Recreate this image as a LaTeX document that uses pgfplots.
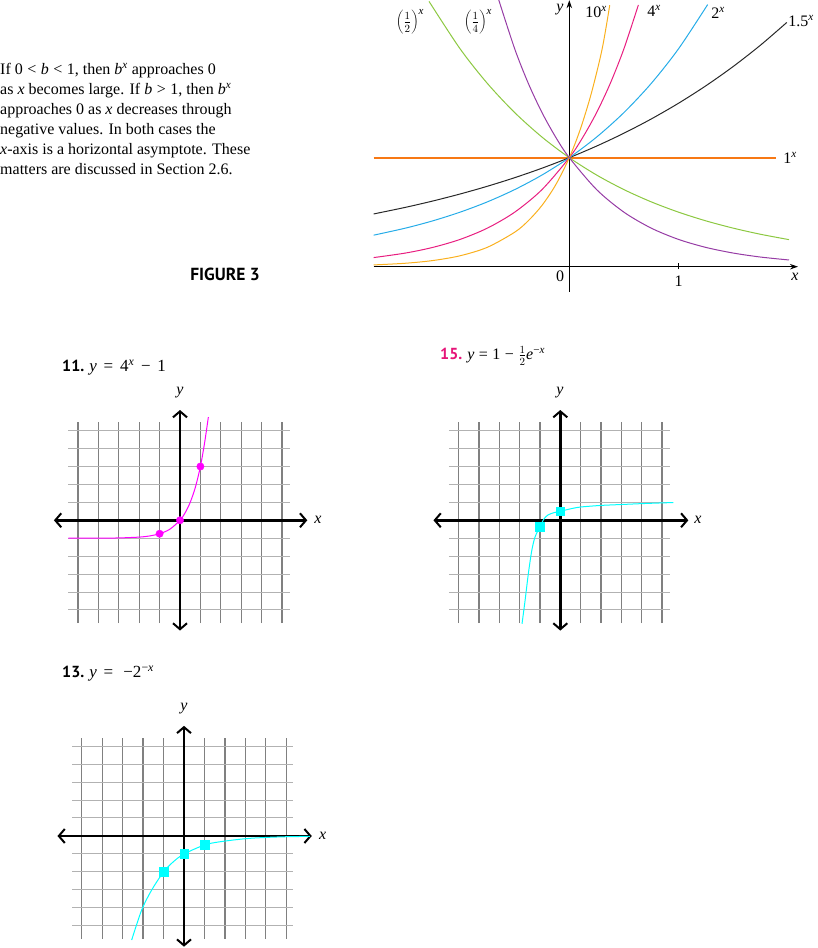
\documentclass[border=0pt]{standalone}
\usepackage{fontspec}
\setmainfont{Liberation Serif}
\newfontfamily\sansbf{PT Sans}
\usepackage{pgfplots}
\pgfplotsset{compat=1.18}
\usetikzlibrary{arrows.meta}
\definecolor{cten}{RGB}{250,176,30}
\definecolor{cfour}{RGB}{232,30,128}
\definecolor{ctwo}{RGB}{38,172,232}
\definecolor{conex}{RGB}{247,120,20}
\definecolor{chalf}{RGB}{140,200,65}
\definecolor{cquart}{RGB}{150,60,165}
\definecolor{cfive}{RGB}{40,40,40}
\definecolor{mag}{RGB}{255,0,255}
\definecolor{cyn}{RGB}{0,255,255}
\definecolor{pinkt}{RGB}{230,20,120}
\newcommand{\sx}{\textsuperscript{\itshape x}}
\newcommand{\msp}{\hspace{0.28em}}
\newcommand{\tsp}{\hspace{0.4em}}
\pgfplotsset{
  gridax/.style={anchor=origin, xmin=-5.47, xmax=5.37, ymin=-5.74, ymax=5.49,
    xtick={-5,...,5}, ytick={-5,...,5}, xticklabels={,,}, yticklabels={,,},
    grid=major, major tick length=0pt, axis line style={draw=none},
    x grid style={black!50, line width=1.3pt}, y grid style={black!30, line width=1pt},
    clip=false},
}
\tikzset{
  bigarrow/.style={line width=2.6pt, {Straight Barb[length=6pt,width=14pt,line width=2pt]}-{Straight Barb[length=6pt,width=14pt,line width=2pt]}},
  lab/.style={font=\fontsize{16}{16}\selectfont, inner sep=0pt},
}
\begin{document}
\begin{tikzpicture}
\path[use as bounding box] (0pt,0pt) rectangle (817pt,948pt);

% ---------- Figure 3 ----------
\begin{axis}[at={(569.3pt,681.3pt)}, anchor=origin, x=109.3pt, y=109pt,
  xmin=-1.79, xmax=2.092, ymin=-0.23, ymax=2.445,
  axis lines=middle, axis line style={line width=0.9pt, black, -{Stealth[length=8pt,width=5.5pt]}},
  xtick=\empty, ytick=\empty, clip=false]
\addplot[draw=conex, color=conex, line width=2pt] coordinates {(-1.79,1)(0,1)(1.89,1)};
\addplot[cfive, line width=1pt, smooth] coordinates {(-1.79,0.4839)(-1.5,0.5443)(-1.25,0.6024)(-1,0.6667)(-0.75,0.7378)(-0.5,0.8165)(-0.25,0.9036)(0,1)(0.25,1.1067)(0.5,1.2247)(0.75,1.3554)(1,1.5)(1.25,1.66)(1.5,1.8371)(1.75,2.0331)(1.99,2.2409)};
\addplot[ctwo, line width=1pt, smooth] coordinates {(-1.79,0.2892)(-1.5,0.3536)(-1.25,0.4204)(-1,0.5)(-0.75,0.5946)(-0.5,0.7071)(-0.25,0.8409)(0,1)(0.25,1.1892)(0.5,1.4142)(0.75,1.6818)(1,2)(1.266,2.4049)};
\addplot[cfour, line width=1pt, smooth] coordinates {(-1.79,0.0836)(-1.5,0.125)(-1.25,0.1768)(-1,0.25)(-0.75,0.3536)(-0.5,0.5)(-0.25,0.7071)(0,1)(0.125,1.1892)(0.25,1.4142)(0.375,1.6818)(0.5,2)(0.632,2.4016)};
\addplot[cten, line width=1pt, smooth] coordinates {(-1.79,0.0162)(-1.5,0.0316)(-1.25,0.0562)(-1,0.1)(-0.75,0.1778)(-0.5,0.3162)(-0.375,0.4217)(-0.25,0.5623)(-0.125,0.7499)(0,1)(0.1,1.2589)(0.2,1.5849)(0.3,1.9953)(0.37,2.40)};
\addplot[chalf, line width=1pt, smooth] coordinates {(-1.283,2.4334)(-1,2)(-0.75,1.6818)(-0.5,1.4142)(-0.25,1.1892)(0,1)(0.25,0.8409)(0.5,0.7071)(0.75,0.5946)(1,0.5)(1.25,0.4204)(1.5,0.3536)(1.75,0.2973)(2.01,0.2483)};
\addplot[cquart, line width=1pt, smooth] coordinates {(-0.648,2.4554)(-0.5,2)(-0.375,1.6818)(-0.25,1.4142)(-0.125,1.1892)(0,1)(0.25,0.7071)(0.5,0.5)(0.75,0.3536)(1,0.25)(1.25,0.1768)(1.5,0.125)(1.75,0.0884)(2.01,0.0616)};
\draw[line width=0.8pt] (axis cs:1,-0.025) -- (axis cs:1,0.037);
\end{axis}
\node[lab] at (410pt,926pt) {$\left(\frac{1}{2}\right)^{\mbox{\fontsize{11}{11}\selectfont\itshape x}}$};
\node[lab] at (478pt,926pt) {$\left(\frac{1}{4}\right)^{\mbox{\fontsize{11}{11}\selectfont\itshape x}}$};
\node[lab] at (596pt,936pt) {10\sx};
\node[lab] at (654pt,937pt) {4\sx};
\node[lab] at (718pt,935pt) {2\sx};
\node[lab] at (801pt,927pt) {1.5\sx};
\node[lab] at (790pt,790pt) {1\sx};
\node[lab] at (560pt,938pt) {\itshape y};
\node[lab] at (795pt,671pt) {\itshape x};
\node[lab] at (560pt,672pt) {0};
\node[lab] at (678.7pt,666.3pt) {1};

\node[anchor=north west, inner sep=0pt, align=left, font=\fontsize{16}{20}\selectfont] at (0pt,885pt)
{If 0\msp<\msp\textit{b}\msp<\msp1, then \textit{b}\sx\ approaches 0\\
as \textit{x} becomes large. If \textit{b}\msp>\msp1, then \textit{b}\sx\\
approaches 0 as \textit{x} decreases through\\
negative values. In both cases the\\
\textit{x}-axis is a horizontal asymptote. These\\
matters are discussed in Section 2.6.};
\node[anchor=base east, inner sep=0pt, font=\sansbf\bfseries\fontsize{17.5}{17.5}\selectfont] at (260pt,667pt) {FIGURE 3};

% ---------- 11 ----------
\node[anchor=base west, inner sep=0pt] at (62pt,576pt) {{\sansbf\bfseries\fontsize{16}{16}\selectfont 11.}\enspace{\fontsize{17}{17}\selectfont\textit{y}\tsp=\tsp4\sx\tsp−\tsp1}};
\begin{axis}[gridax, at={(180pt,427.7pt)}, x=20.4pt, y=17.93pt]
\draw[bigarrow] (axis cs:-6.18,0) -- (axis cs:6.24,0);
\draw[bigarrow] (axis cs:0,-6.15) -- (axis cs:0,6.15);
\addplot[mag, line width=1pt, smooth] coordinates {(-5.47,-1)(-4,-0.996)(-3,-0.984)(-2,-0.9375)(-1.5,-0.875)(-1,-0.75)(-0.5,-0.5)(0,0)(0.25,0.414)(0.5,1)(0.75,1.828)(1,3)(1.2,4.28)(1.39,5.75)};
\addplot[only marks, mark=*, mark size=3.7pt, mag] coordinates {(-1,-0.75)(0,0)(1,3)};
\end{axis}
\node[lab] at (318pt,428pt) {\itshape x};
\node[lab] at (180pt,555pt) {\itshape y};

% ---------- 15 ----------
\node[anchor=base west, inner sep=0pt] at (440pt,588pt) {{\color{pinkt}\sansbf\bfseries\fontsize{16}{16}\selectfont 15.}\enspace{\fontsize{16}{16}\selectfont\textit{y}\msp=\msp1\msp−\msp$\frac{1}{2}$\textit{e}\textsuperscript{−\textit{x}}}};
\begin{axis}[gridax, at={(560.3pt,427.7pt)}, x=20.36pt, y=17.93pt]
\draw[bigarrow] (axis cs:-6.23,0) -- (axis cs:6.29,0);
\draw[bigarrow] (axis cs:0,-6.15) -- (axis cs:0,6.15);
\addplot[cyn, line width=1pt, smooth] coordinates {(-1.88,-5.77)(-1.73,-4.47)(-1.57,-2.98)(-1.40,-1.68)(-1.24,-0.93)(-1,-0.36)(-0.8,0.08)(-0.6,0.3)(-0.3,0.43)(0,0.5)(0.5,0.64)(1,0.74)(2,0.83)(3,0.88)(4,0.93)(5,0.97)(5.55,0.99)};
\addplot[only marks, mark=square*, mark size=4.3pt, cyn] coordinates {(-1,-0.36)(0,0.5)};
\end{axis}
\node[lab] at (698pt,428pt) {\itshape x};
\node[lab] at (560pt,555pt) {\itshape y};

% ---------- 13 ----------
\node[anchor=base west, inner sep=0pt] at (62pt,270pt) {{\sansbf\bfseries\fontsize{16}{16}\selectfont 13.}\enspace{\fontsize{17}{17}\selectfont\textit{y}\tsp=\hspace{0.6em}−2\textsuperscript{−\textit{x}}}};
\begin{axis}[gridax, at={(184pt,112pt)}, x=20.44pt, y=18pt, xmin=-5.46, xmax=5.32, ymin=-5.7, ymax=5.43]
\draw[bigarrow] (axis cs:-6.19,0) -- (axis cs:6.25,0);
\draw[bigarrow] (axis cs:0,-6.15) -- (axis cs:0,6.12);
\addplot[cyn, line width=1pt, smooth] coordinates {(-2.56,-5.78)(-2.07,-4.11)(-1.58,-3.0)(-1,-2)(-0.52,-1.43)(0,-1)(1,-0.5)(1.76,-0.32)(3,-0.15)(4,-0.08)(5,-0.04)(6.16,-0.02)};
\addplot[only marks, mark=square*, mark size=4.3pt, cyn] coordinates {(-1,-2)(0,-1)(1,-0.5)};
\end{axis}
\node[lab] at (322.7pt,112pt) {\itshape x};
\node[lab] at (184pt,239pt) {\itshape y};
\end{tikzpicture}
\end{document}
